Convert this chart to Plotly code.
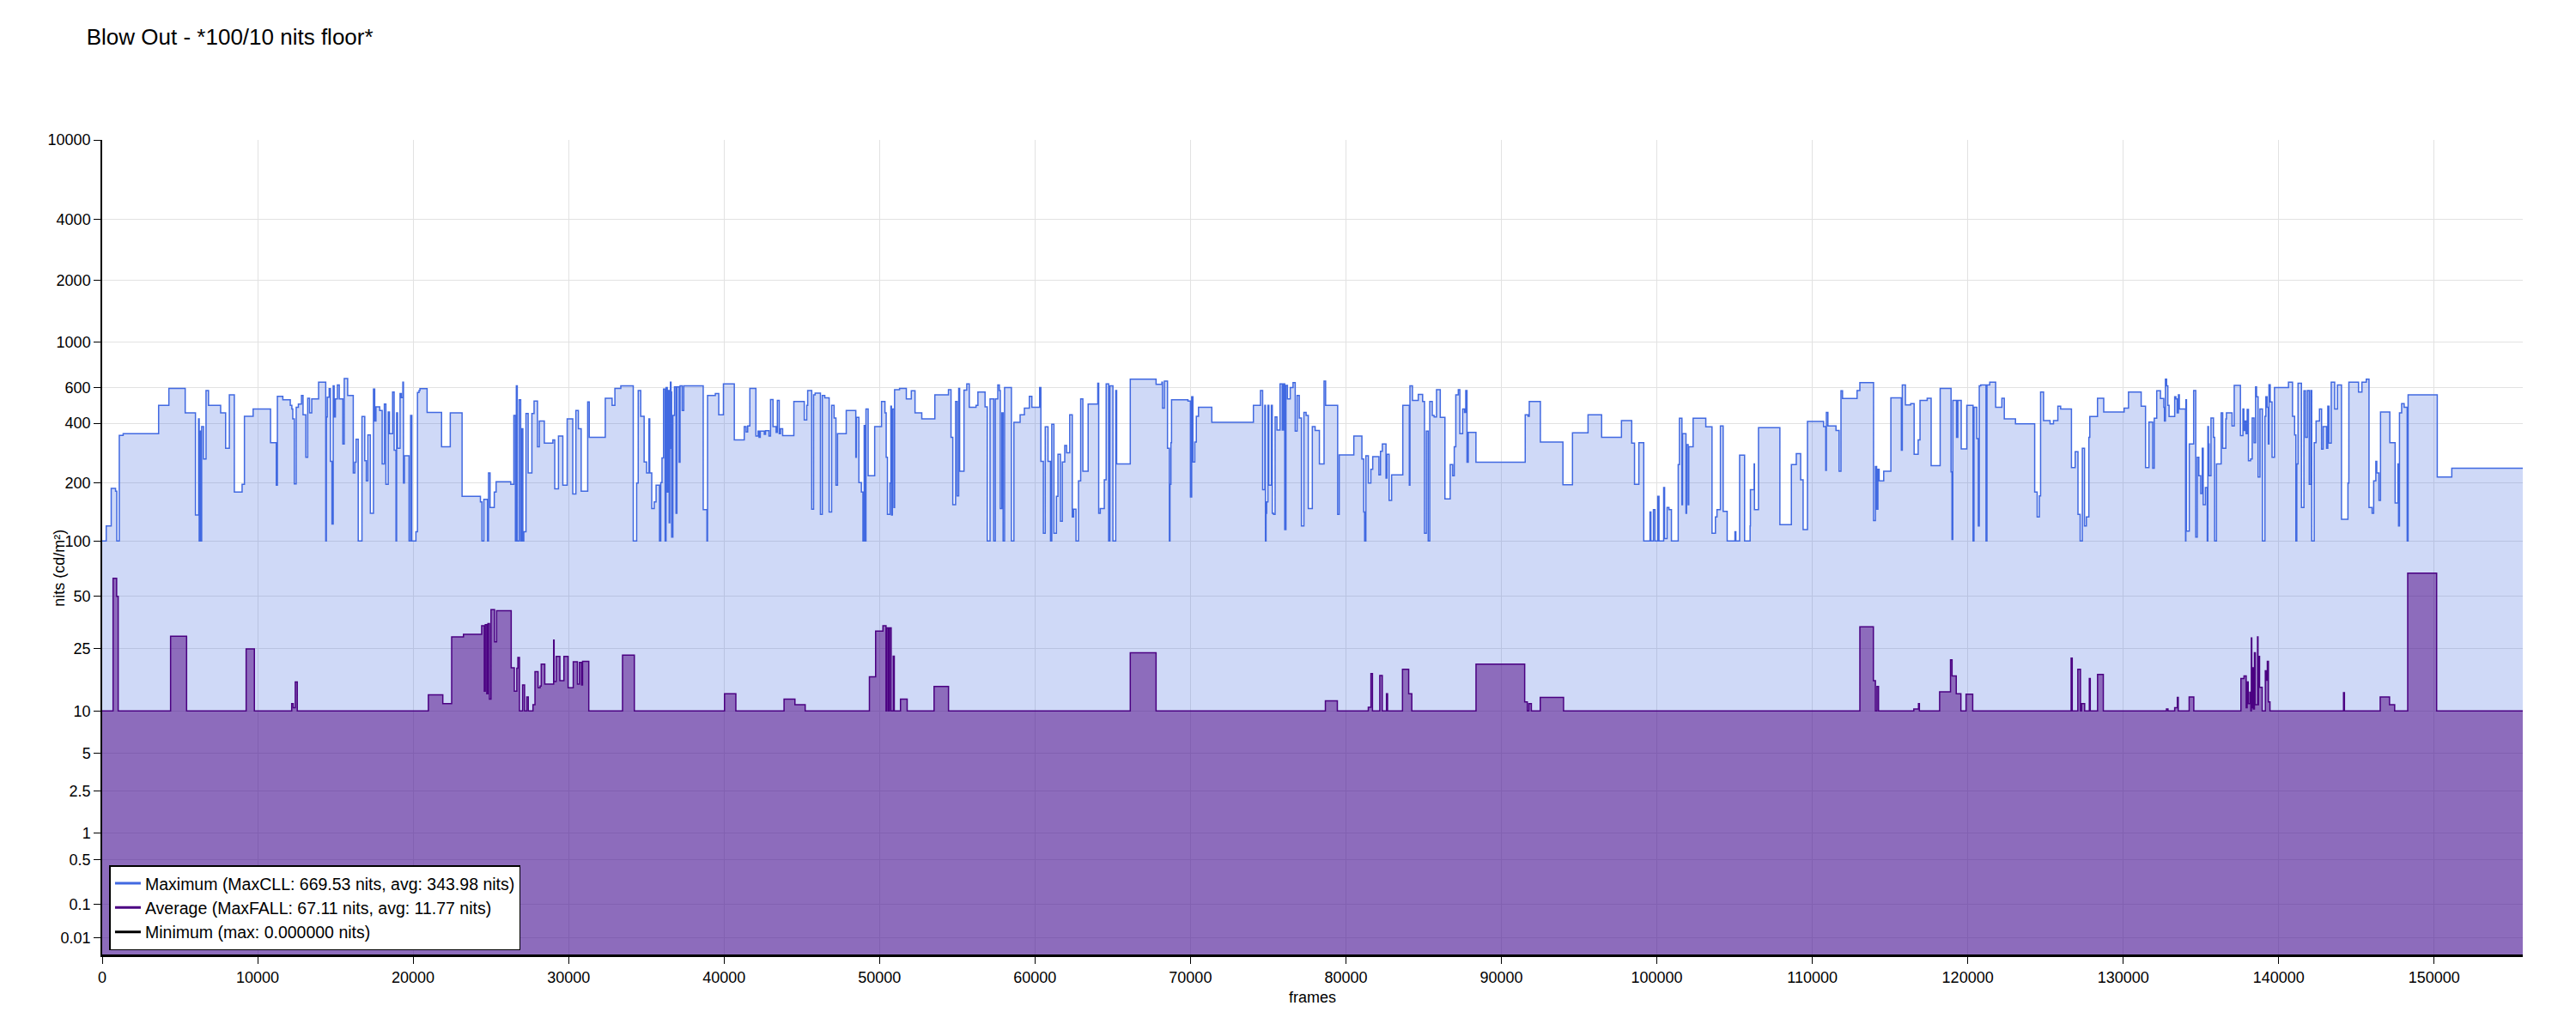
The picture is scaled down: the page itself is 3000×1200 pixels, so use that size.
import numpy as np
import plotly.graph_objects as go

# brightness per frame (step values in nits, each holding until the next frame)
max_frames = [
    0, 260, 580, 860, 940, 1100, 1350, 3630, 4290, 5340,
    6000, 6200, 6240, 6280, 6360, 6400, 6520, 6680, 6840, 7620,
    7940, 8180, 8500, 9000, 9150, 9710, 10830, 11200, 11270, 11620,
    12100, 12200, 12260, 12360, 12480, 12620, 12820, 12920, 13100, 13220,
    13340, 13480, 13920, 14380, 14420, 14480, 14600, 14680, 14780, 14860,
    14920, 15000, 15130, 15250, 15480, 15570, 15790, 16150, 16250, 16330,
    16470, 16710, 16890, 16990, 17090, 17250, 17450, 17530, 17610, 17850,
    18010, 18150, 18250, 18400, 18480, 18680, 18780, 18900, 18940, 19000,
    19160, 19240, 19340, 19380, 19440, 19740, 19840, 19920, 20180, 20280,
    20380, 20440, 20900, 21830, 22390, 23150, 24330, 24430, 24550, 24790,
    24850, 24950, 25220, 25340, 26280, 26480, 26580, 26640, 26700, 26820,
    26920, 26980, 27060, 27120, 27260, 27400, 27640, 27780, 28000, 28120,
    28440, 28990, 29110, 29350, 29630, 29910, 30270, 30470, 30630, 30810,
    31230, 31330, 32360, 32800, 32980, 33360, 34160, 34380, 34480, 34640,
    34860, 35020, 35170, 35220, 35350, 35510, 35630, 35850, 35930, 36010,
    36110, 36210, 36270, 36350, 36430, 36470, 36510, 36550, 36590, 36630,
    36710, 36810, 36910, 36970, 37110, 37170, 37310, 37410, 38660, 38900,
    38940, 39440, 39660, 39960, 40660, 41300, 41420, 41520, 41660, 42050,
    42190, 42250, 42330, 42590, 42670, 42890, 42990, 43150, 43350, 43430,
    43550, 43630, 43770, 44490, 45160, 45320, 45380, 45640, 45760, 45860,
    46200, 46320, 46480, 46760, 46920, 47080, 47200, 47300, 47860, 48475,
    48515, 48675, 48835, 48935, 49015, 49070, 49130, 49270, 49690, 50130,
    50350, 50430, 50510, 50670, 50730, 50770, 50830, 50930, 50970, 51290,
    51725, 52045, 52285, 52720, 53560, 54435, 54600, 54715, 54895, 54995,
    55095, 55155, 55435, 55615, 55775, 56210, 56330, 56790, 56930, 57110,
    57350, 57450, 57610, 57710, 57770, 57870, 57950, 58045, 58485, 58645,
    59045, 59320, 59640, 59800, 60300, 60380, 60540, 60660, 60840, 61000,
    61080, 61220, 61380, 61480, 61640, 61760, 61915, 62035, 62235, 62400,
    62480, 62640, 62800, 62940, 63080, 63420, 64040, 64100, 64200, 64460,
    64580, 64740, 64820, 65015, 65195, 65255, 66130, 67790, 68165, 68205,
    68325, 68525, 68645, 68685, 68745, 68785, 69840, 70000, 70080, 70160,
    70280, 70380, 70520, 71375, 74050, 74505, 74645, 74785, 74825, 74865,
    74905, 74985, 75045, 75205, 75265, 75345, 75445, 75565, 75765, 75905,
    75985, 76065, 76145, 76240, 76420, 76600, 76740, 76860, 77000, 77140,
    77300, 77440, 77580, 77840, 78020, 78295, 78595, 78695, 79470, 79570,
    80510, 81030, 81145, 81205, 81285, 81445, 81605, 81725, 82125, 82225,
    82345, 82580, 82640, 82780, 82940, 83660, 84080, 84120, 84280, 84655,
    84935, 85055, 85175, 85295, 85395, 85555, 85675, 85830, 86070, 86370,
    86710, 86870, 86970, 87070, 87230, 87330, 87510, 87630, 87710, 87790,
    87870, 88365, 91535, 91715, 91795, 92510, 93960, 94575, 95575, 96450,
    97725, 98385, 98565, 98845, 99160, 99560, 99620, 99780, 99880, 100060,
    100140, 100440, 100500, 100660, 100780, 100940, 101375, 101455, 101615, 101655,
    101875, 101915, 102015, 102055, 102335, 103150, 103550, 103770, 103870, 104090,
    104265, 104525, 105025, 105085, 105325, 105645, 106000, 106020, 106260, 106280,
    106540, 107915, 108655, 108970, 109250, 109410, 109690, 110725, 110865, 110905,
    111005, 111525, 111725, 111845, 111945, 112880, 113060, 113940, 114060, 114140,
    114220, 114300, 114595, 115055, 115730, 115790, 115990, 116330, 116550, 116810,
    116930, 117390, 117645, 118225, 118925, 118985, 119040, 119280, 119360, 119580,
    119940, 120340, 120400, 120580, 120680, 120740, 120835, 121175, 121235, 121415,
    121795, 122195, 122350, 123070, 124305, 124465, 124605, 124685, 124875, 125295,
    125515, 125795, 125975, 126670, 126910, 127090, 127230, 127370, 127510, 127630,
    127790, 127850, 128345, 128745, 130060, 130340, 131155, 131435, 131655, 131895,
    131995, 132155, 132395, 132610, 132650, 132715, 132790, 132870, 132950, 133310,
    133390, 133470, 133550, 133610, 134010, 134030, 134070, 134250, 134530, 134665,
    134765, 134865, 134985, 135085, 135145, 135285, 135405, 135445, 135485, 135525,
    135645, 135805, 135880, 136000, 136300, 136400, 136600, 136640, 137000, 137140,
    137540, 137700, 137760, 137835, 137900, 137975, 138055, 138195, 138295, 138415,
    138515, 138575, 138675, 138795, 138955, 139115, 139175, 139255, 139335, 139375,
    139455, 139575, 139730, 140630, 140890, 141025, 141105, 141165, 141245, 141465,
    141625, 141725, 141845, 141965, 142065, 142125, 142285, 142405, 142625, 142760,
    142860, 143080, 143160, 143240, 143380, 143600, 143780, 144040, 144455, 144515,
    145135, 145355, 145635, 145810, 146010, 146110, 146250, 146310, 146450, 146550,
    147150, 147490, 147670, 147710, 147770, 147910, 148070, 148265, 148325, 150200,
    151135, 155700,
]
max_nits = [
    100, 120, 188, 182, 100, 348, 355, 490, 595, 450,
    137, 420, 100, 365, 100, 385, 265, 580, 490, 450,
    300, 552, 180, 197, 433, 470, 320, 195, 543, 523,
    490, 470, 420, 198, 480, 498, 548, 440, 270, 532,
    450, 527, 637, 100, 430, 538, 593, 258, 123, 612,
    430, 527, 618, 527, 315, 665, 548, 225, 255, 333,
    100, 432, 260, 205, 350, 140, 590, 410, 482, 462,
    250, 498, 197, 455, 355, 570, 293, 100, 450, 300,
    561, 535, 637, 200, 275, 100, 437, 100, 112, 568,
    580, 593, 452, 305, 450, 171, 160, 100, 165, 100,
    225, 150, 180, 203, 197, 437, 100, 612, 100, 523,
    100, 375, 100, 112, 447, 225, 447, 515, 305, 410,
    318, 330, 187, 345, 195, 420, 176, 462, 375, 182,
    510, 340, 532, 490, 595, 612, 100, 200, 580, 433,
    256, 225, 420, 225, 148, 160, 195, 100, 201, 268,
    590, 100, 600, 180, 580, 125, 300, 637, 570, 105,
    437, 605, 140, 605, 255, 612, 462, 612, 146, 100,
    548, 561, 440, 625, 330, 385, 362, 388, 595, 345,
    365, 340, 365, 352, 367, 345, 524, 385, 360, 518,
    355, 375, 347, 512, 415, 490, 580, 147, 552, 563,
    138, 548, 534, 142, 490, 424, 195, 355, 462, 270,
    428, 201, 180, 100, 390, 100, 470, 218, 385, 512,
    450, 270, 138, 200, 485, 137, 470, 150, 585, 595,
    527, 578, 450, 420, 552, 585, 340, 155, 512, 172,
    595, 230, 583, 625, 480, 490, 570, 482, 100, 527,
    100, 527, 618, 580, 148, 450, 100, 600, 100, 404,
    440, 475, 543, 480, 600, 258, 110, 384, 258, 100,
    395, 110, 171, 280, 127, 256, 310, 285, 440, 134,
    147, 100, 205, 527, 230, 498, 630, 140, 148, 208,
    625, 100, 612, 100, 580, 250, 660, 622, 637, 475,
    645, 300, 100, 197, 320, 523, 515, 170, 540, 256,
    322, 433, 480, 404, 490, 580, 185, 490, 100, 140,
    160, 490, 195, 490, 140, 138, 430, 370, 625, 370,
    625, 115, 615, 527, 600, 635, 365, 548, 424, 120,
    452, 437, 148, 385, 368, 250, 645, 490, 138, 278,
    345, 265, 142, 100, 275, 200, 235, 272, 220, 290,
    315, 212, 280, 163, 220, 490, 195, 612, 518, 555,
    512, 110, 365, 100, 512, 437, 430, 585, 428, 166,
    248, 218, 305, 552, 585, 355, 470, 452, 580, 255,
    360, 255, 440, 433, 512, 322, 196, 358, 440, 340,
    412, 318, 197, 320, 100, 142, 100, 146, 100, 171,
    100, 190, 103, 150, 146, 100, 248, 423, 155, 355,
    140, 313, 155, 305, 423, 384, 110, 134, 146, 388,
    143, 100, 112, 100, 277, 100, 120, 185, 250, 146,
    380, 122, 248, 282, 208, 115, 408, 385, 232, 452,
    388, 368, 230, 578, 530, 580, 635, 128, 243, 147,
    235, 205, 230, 534, 293, 618, 493, 500, 280, 330,
    518, 532, 245, 595, 228, 102, 518, 340, 518, 298,
    490, 100, 480, 335, 120, 612, 618, 100, 618, 637,
    480, 532, 420, 397, 180, 134, 172, 570, 412, 397,
    412, 485, 470, 240, 288, 138, 100, 300, 120, 134,
    340, 432, 532, 455, 475, 570, 485, 240, 405, 238,
    423, 578, 530, 480, 410, 660, 612, 490, 432, 540,
    527, 450, 552, 470, 100, 523, 113, 315, 580, 105,
    270, 218, 177, 300, 155, 190, 100, 385, 315, 218,
    424, 340, 100, 250, 450, 300, 420, 450, 388, 615,
    347, 470, 368, 410, 355, 468, 260, 265, 424, 320,
    605, 540, 215, 470, 100, 433, 540, 480, 315, 620,
    510, 270, 600, 637, 433, 350, 100, 250, 630, 150,
    578, 340, 580, 197, 580, 100, 320, 410, 470, 297,
    385, 300, 485, 318, 637, 470, 618, 130, 200, 637,
    570, 637, 660, 150, 140, 205, 258, 225, 163, 455,
    320, 158, 250, 120, 450, 500, 480, 100, 552, 215,
    238, 238,
]

avg_frames = [
    0, 700, 930, 1030, 4400, 5430, 9260, 9790, 12190, 12290,
    12420, 12550, 20980, 21910, 22480, 23240, 24410, 24580, 24640, 24740,
    24810, 24910, 25010, 25240, 25370, 26310, 26510, 26670, 26740, 26840,
    27040, 27170, 27310, 27410, 27710, 27840, 28040, 28170, 28240, 28470,
    29040, 29070, 29200, 29440, 29700, 29970, 30300, 30570, 30700, 30840,
    30900, 31300, 33470, 34230, 40030, 40760, 43860, 44560, 45220, 49350,
    49750, 50220, 50420, 50480, 50580, 50650, 50750, 50880, 50950, 51350,
    51780, 53510, 54440, 66130, 67790, 78680, 79450, 81440, 81610, 81710,
    82180, 82340, 82610, 82680, 83640, 84040, 84240, 88370, 91500, 91670,
    91770, 91930, 92500, 94000, 113060, 113930, 114060, 114160, 114260, 116530,
    116830, 116890, 118190, 118890, 118990, 119260, 119560, 119890, 120320, 126650,
    126720, 127080, 127250, 127320, 127520, 127820, 127880, 128350, 128720, 132780,
    132880, 133310, 133480, 133540, 134240, 134540, 137570, 137770, 137910, 137970,
    138040, 138140, 138210, 138240, 138270, 138310, 138370, 138440, 138500, 138640,
    138670, 138700, 138770, 138940, 139140, 139200, 139270, 139340, 139440, 144170,
    144230, 146530, 147130, 147460, 148300, 150160, 155700,
]
avg_nits = [
    10, 63, 50, 10, 29.5, 10, 24.8, 10, 11.2, 10.5,
    15.5, 10, 12.8, 11.2, 29.2, 30.3, 34, 13.5, 34.5, 13,
    35, 12, 42, 27.3, 41.5, 19, 13.5, 18.9, 22, 10,
    14.8, 10, 12.4, 10, 11, 18, 14.2, 14.6, 20, 15,
    28, 15.6, 22.3, 15.8, 22.3, 14.2, 20.7, 15, 20.5, 14.8,
    20.8, 10, 22.7, 10, 13, 10, 12, 11, 10, 16.7,
    31.6, 34, 10, 33, 10, 33, 10, 22.4, 10, 12,
    10, 14.5, 10, 23.5, 10, 11.7, 10, 10.6, 17.5, 10,
    17, 10, 13, 10, 18.6, 13, 10, 20, 11.5, 10,
    11.2, 10, 12.3, 10, 33.5, 15.8, 10, 14.5, 10, 10.3,
    11.2, 10, 13.4, 21.3, 16.9, 13, 10, 12.9, 10, 21.8,
    10, 18.6, 10, 11.2, 10, 16.3, 10, 17.3, 10, 10.3,
    10, 10.5, 12.3, 10, 12.4, 10, 16.3, 16.9, 10.5, 15.5,
    11.2, 13.3, 10, 28.8, 10.5, 19, 10.3, 23.5, 11, 29.2,
    11, 22.3, 14.3, 10, 18.2, 15.9, 20.8, 11.5, 10, 13.2,
    10, 12.4, 11, 10, 67.1, 10, 10,
]

min_frames = [0, 155700]
min_nits = [0, 0]

tick_nits = [0.01, 0.1, 0.5, 1, 2.5, 5, 10, 25, 50, 100, 200, 400, 600, 1000, 2000, 4000, 10000]
tick_labels = ['0.01', '0.1', '0.5', '1', '2.5', '5', '10', '25', '50', '100', '200', '400', '600',
               '1000', '2000', '4000', '10000']

last_frame = 155700

max_name = 'Maximum (MaxCLL: 669.53 nits, avg: 343.98 nits)'
avg_name = 'Average (MaxFALL: 67.11 nits, avg: 11.77 nits)'
min_name = 'Minimum (max: 0.000000 nits)'


def pq(nits):
    # SMPTE ST 2084 inverse EOTF, the y axis is laid out in PQ code values
    m1 = 2610 / 16384
    m2 = 2523 / 4096 * 128
    c1 = 3424 / 4096
    c2 = 2413 / 4096 * 32
    c3 = 2392 / 4096 * 32
    y = np.power(np.asarray(nits, dtype=float) / 10000.0, m1)
    return np.power((c1 + c2 * y) / (1 + c3 * y), m2)


font = 'Liberation Sans, Arial, sans-serif'
max_color = 'rgb(65,105,225)'
avg_color = 'rgb(75,0,130)'

fig = go.Figure()
fig.add_trace(go.Scatter(
    x=max_frames, y=pq(max_nits),
    mode='lines', line_shape='hv',
    line=dict(color=max_color, width=1.5),
    fill='tozeroy', fillcolor='rgba(65,105,225,0.25)',
    name=max_name, showlegend=False))
fig.add_trace(go.Scatter(
    x=avg_frames, y=pq(avg_nits),
    mode='lines', line_shape='hv',
    line=dict(color=avg_color, width=1.5),
    fill='tozeroy', fillcolor='rgba(75,0,130,0.5)',
    name=avg_name, showlegend=False))
fig.add_trace(go.Scatter(
    x=min_frames, y=pq(min_nits),
    mode='lines', line_shape='hv',
    line=dict(color='black', width=2),
    name=min_name, showlegend=False))

# legend entries as plain lines (the filled traces would show boxes)
for name, color in [(max_name, max_color), (avg_name, avg_color), (min_name, 'black')]:
    fig.add_trace(go.Scatter(x=[None], y=[None], mode='lines',
                             line=dict(color=color, width=3), name=name))

# the page body adds 8px around the figure, so the figure is 8px smaller than the window
fig.update_layout(
    width=2992, height=1192,
    margin=dict(l=111, r=62, t=155, b=87, pad=0),
    paper_bgcolor='white', plot_bgcolor='white',
    font=dict(family=font, size=18, color='black'),
    title=dict(text='Blow Out - *100/10 nits floor*', x=0.031, xanchor='left',
               y=0.971, yanchor='middle', font=dict(size=26, color='black')),
    showlegend=True,
    legend=dict(x=0.003, y=0.006, xanchor='left', yanchor='bottom',
                bgcolor='white', bordercolor='black', borderwidth=1.5,
                font=dict(size=19.5), itemwidth=30),
)
fig.add_annotation(
    text='nits (cd/m²)', textangle=-90, showarrow=False,
    xref='paper', yref='paper', x=-0.0177, y=0.475,
    xanchor='center', yanchor='middle', font=dict(size=18))
fig.update_xaxes(
    range=[0, last_frame], tick0=0, dtick=10000, tickformat='d',
    showgrid=True, gridcolor='rgb(226,226,226)', gridwidth=1, zeroline=False,
    showline=True, linecolor='black', linewidth=2,
    ticks='outside', ticklen=8, tickcolor='black',
    title=dict(text='frames', font=dict(size=18), standoff=8),
)
fig.update_yaxes(
    range=[0, 1], tickmode='array', tickvals=pq(tick_nits), ticktext=tick_labels,
    showgrid=True, gridcolor='rgb(226,226,226)', gridwidth=1, zeroline=False,
    showline=True, linecolor='black', linewidth=1.5,
    ticks='outside', ticklen=8, tickcolor='black',
)

fig.write_html("out.html")
